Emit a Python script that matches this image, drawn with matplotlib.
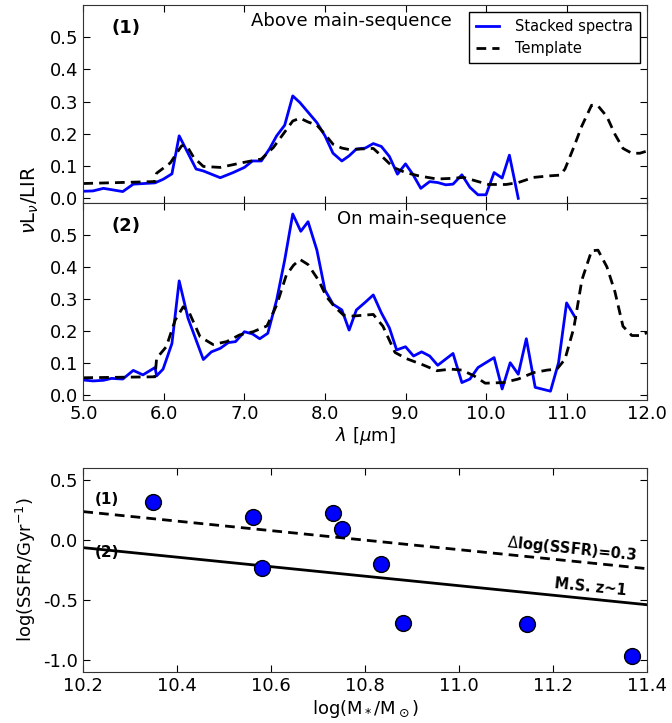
import numpy as np
import matplotlib
matplotlib.use('Agg')
import matplotlib.pyplot as plt

plt.rcParams['font.family'] = 'DejaVu Sans'
plt.rcParams['xtick.direction'] = 'in'
plt.rcParams['ytick.direction'] = 'in'
plt.rcParams['xtick.top'] = True
plt.rcParams['ytick.right'] = True
plt.rcParams['xtick.major.size'] = 5
plt.rcParams['ytick.major.size'] = 5

# panel (1): above main-sequence
wl1 = [5.0, 5.12, 5.25, 5.49, 5.62, 5.89, 5.99, 6.1, 6.19, 6.4, 6.49, 6.7, 6.86, 7.0,
       7.1, 7.21, 7.31, 7.4, 7.5, 7.6, 7.69, 7.9, 8.0, 8.1, 8.21, 8.3, 8.39, 8.5,
       8.6, 8.7, 8.8, 8.9, 9.0, 9.09, 9.19, 9.3, 9.4, 9.5, 9.59, 9.7, 9.8, 9.9,
       10.0, 10.1, 10.2, 10.29, 10.4]
spec1 = [0.022, 0.023, 0.031, 0.021, 0.044, 0.048, 0.059, 0.076, 0.194, 0.091, 0.085,
         0.064, 0.080, 0.096, 0.116, 0.116, 0.153, 0.194, 0.227, 0.318, 0.297, 0.235,
         0.194, 0.14, 0.116, 0.132, 0.153, 0.156, 0.170, 0.161, 0.13, 0.075, 0.107,
         0.075, 0.031, 0.052, 0.049, 0.042, 0.044, 0.073, 0.034, 0.011, 0.011, 0.08,
         0.063, 0.134, 0.0]
twl1 = [5.0, 5.89, 5.91, 6.08, 6.22, 6.28, 6.37, 6.49, 6.7, 6.98, 7.21, 7.36, 7.48, 7.6,
        7.69, 7.79, 7.9, 8.0, 8.1, 8.21, 8.31, 8.43, 8.6, 8.7, 8.85, 9.0, 9.16, 9.39,
        9.58, 9.72, 9.86, 10.03, 10.25, 10.4, 10.59, 10.8, 10.92, 10.98, 11.08, 11.19,
        11.31, 11.39, 11.5, 11.6, 11.7, 11.81, 11.91, 12.0]
temp1 = [0.046, 0.052, 0.078, 0.11, 0.163, 0.165, 0.127, 0.099, 0.096, 0.111, 0.122,
         0.158, 0.199, 0.24, 0.249, 0.237, 0.227, 0.199, 0.168, 0.156, 0.151, 0.153,
         0.155, 0.132, 0.096, 0.08, 0.07, 0.06, 0.062, 0.065, 0.055, 0.043, 0.043,
         0.049, 0.065, 0.07, 0.072, 0.091, 0.153, 0.225, 0.289, 0.287, 0.254, 0.199,
         0.155, 0.14, 0.14, 0.147]

# panel (2): on main-sequence
wl2 = [5.0, 5.12, 5.25, 5.35, 5.49, 5.62, 5.74, 5.89, 5.91, 5.99, 6.1, 6.19, 6.3, 6.4,
       6.49, 6.59, 6.7, 6.8, 6.89, 7.0, 7.1, 7.19, 7.29, 7.4, 7.5, 7.6, 7.7, 7.79,
       7.9, 8.0, 8.1, 8.21, 8.3, 8.39, 8.5, 8.6, 8.7, 8.8, 8.89, 9.0, 9.1, 9.2, 9.3,
       9.4, 9.59, 9.7, 9.8, 9.9, 10.1, 10.2, 10.3, 10.4, 10.5, 10.61, 10.8, 10.9,
       11.0, 11.11]
spec2 = [0.047, 0.044, 0.046, 0.052, 0.05, 0.077, 0.063, 0.086, 0.06, 0.081, 0.161,
         0.357, 0.24, 0.172, 0.111, 0.135, 0.146, 0.164, 0.167, 0.198, 0.191, 0.176,
         0.193, 0.297, 0.422, 0.566, 0.512, 0.542, 0.453, 0.328, 0.284, 0.266, 0.203,
         0.266, 0.29, 0.313, 0.257, 0.21, 0.141, 0.151, 0.122, 0.135, 0.122, 0.093,
         0.13, 0.039, 0.05, 0.086, 0.117, 0.019, 0.101, 0.065, 0.176, 0.024, 0.012,
         0.101, 0.288, 0.241]
twl2 = [5.0, 5.89, 5.91, 6.03, 6.14, 6.24, 6.32, 6.45, 6.61, 6.78, 6.94, 7.11, 7.28, 7.4,
        7.52, 7.61, 7.69, 7.79, 7.92, 8.02, 8.12, 8.23, 8.35, 8.6, 8.72, 8.87, 9.01,
        9.22, 9.39, 9.56, 9.7, 9.85, 9.99, 10.22, 10.4, 10.59, 10.76, 10.88, 10.98,
        11.09, 11.19, 11.31, 11.39, 11.5, 11.6, 11.7, 11.81, 11.91, 12.0]
temp2 = [0.054, 0.057, 0.115, 0.151, 0.234, 0.276, 0.255, 0.182, 0.158, 0.167, 0.188,
         0.198, 0.216, 0.281, 0.375, 0.406, 0.424, 0.408, 0.359, 0.307, 0.276, 0.25,
         0.247, 0.252, 0.215, 0.133, 0.114, 0.094, 0.076, 0.081, 0.078, 0.06, 0.037,
         0.039, 0.05, 0.07, 0.078, 0.081, 0.112, 0.21, 0.36, 0.451, 0.453, 0.401,
         0.323, 0.215, 0.186, 0.186, 0.195]

# bottom panel: stellar mass vs SSFR
mass = [10.349, 10.562, 10.580, 10.731, 10.750, 10.833, 10.881, 11.144, 11.367]
ssfr = [0.312, 0.188, -0.232, 0.224, 0.094, -0.204, -0.690, -0.701, -0.969]
ms_x = [10.2, 11.4]
ms_y = [-0.065, -0.54]
offset = 0.3

fig = plt.figure(figsize=(6.72, 7.23), dpi=100)
L, R = 0.124, 0.963
ax1 = fig.add_axes([L, 0.719, R - L, 0.274])
ax2 = fig.add_axes([L, 0.447, R - L, 0.272])
ax3 = fig.add_axes([L, 0.0705, R - L, 0.2825])

dash = (3.5, 2.2)
for ax, wl, sp, twl, tp in [(ax1, wl1, spec1, twl1, temp1), (ax2, wl2, spec2, twl2, temp2)]:
    ax.plot(wl, sp, color='#0000ff', lw=2, label='Stacked spectra')
    ax.plot(twl, tp, color='k', lw=2, dashes=dash, label='Template')
    ax.set_xlim(5.0, 12.0)
    ax.set_ylim(-0.015, 0.6)
    ax.set_yticks([0.0, 0.1, 0.2, 0.3, 0.4, 0.5])
    ax.set_xticks(np.arange(5, 12.1, 1.0))
    ax.tick_params(labelsize=13)
    ax.yaxis.set_major_formatter(plt.FormatStrFormatter('%.1f'))
    ax.xaxis.set_major_formatter(plt.FormatStrFormatter('%.1f'))

ax1.tick_params(labelbottom=False)
ax1.text(5.35, 0.53, '(1)', fontsize=13, fontweight='bold', va='center')
ax1.text(8.33, 0.55, 'Above main-sequence', fontsize=13, ha='center', va='center')
ax2.text(5.35, 0.53, '(2)', fontsize=13, fontweight='bold', va='center')
ax2.text(9.2, 0.55, 'On main-sequence', fontsize=13, ha='center', va='center')
leg = ax1.legend(loc='upper right', fontsize=10.5, fancybox=False, framealpha=1,
                 borderaxespad=0.5, handlelength=1.6, handletextpad=1.1,
                 borderpad=0.45, labelspacing=0.5)
leg.get_frame().set_edgecolor('k')

ax2.set_xlabel(r'$\lambda$ [$\mu$m]', fontsize=13, labelpad=2)
fig.text(0.045, 1 - 200 / 723, r'$\nu$L$_\nu$/LIR', rotation=90, fontsize=14,
         ha='center', va='center')

ax3.plot(ms_x, ms_y, color='k', lw=2)
ax3.plot(ms_x, np.array(ms_y) + offset, color='k', lw=2, dashes=dash)
ax3.scatter(mass, ssfr, s=130, color='#0000ff', edgecolors='k', linewidths=1, zorder=3)
ax3.set_xlim(10.2, 11.4)
ax3.set_ylim(-1.1, 0.6)
ax3.set_xticks([10.2, 10.4, 10.6, 10.8, 11.0, 11.2, 11.4])
ax3.set_yticks([-1.0, -0.5, 0.0, 0.5])
ax3.xaxis.set_major_formatter(plt.FormatStrFormatter('%.1f'))
ax3.yaxis.set_major_formatter(plt.FormatStrFormatter('%.1f'))
ax3.tick_params(labelsize=13)
ax3.set_xlabel(r'log(M$_*$/M$_\odot$)', fontsize=13, labelpad=2)
ax3.set_ylabel(r'log(SSFR/Gyr$^{-1}$)', fontsize=13)
ax3.text(10.225, 0.34, '(1)', fontsize=11, fontweight='bold', va='center')
ax3.text(10.225, -0.105, '(2)', fontsize=11, fontweight='bold', va='center')
ax3.text(11.24, -0.08, r'$\Delta$log(SSFR)=0.3', fontsize=10.5, fontweight='bold',
         ha='center', va='center', rotation=-5.8)
ax3.text(11.28, -0.39, 'M.S. z~1', fontsize=10.5, fontweight='bold',
         ha='center', va='center', rotation=-5.8)

for ax in (ax1, ax2, ax3):
    for s in ax.spines.values():
        s.set_color('0.2')

fig.savefig('out.png', dpi=100)
